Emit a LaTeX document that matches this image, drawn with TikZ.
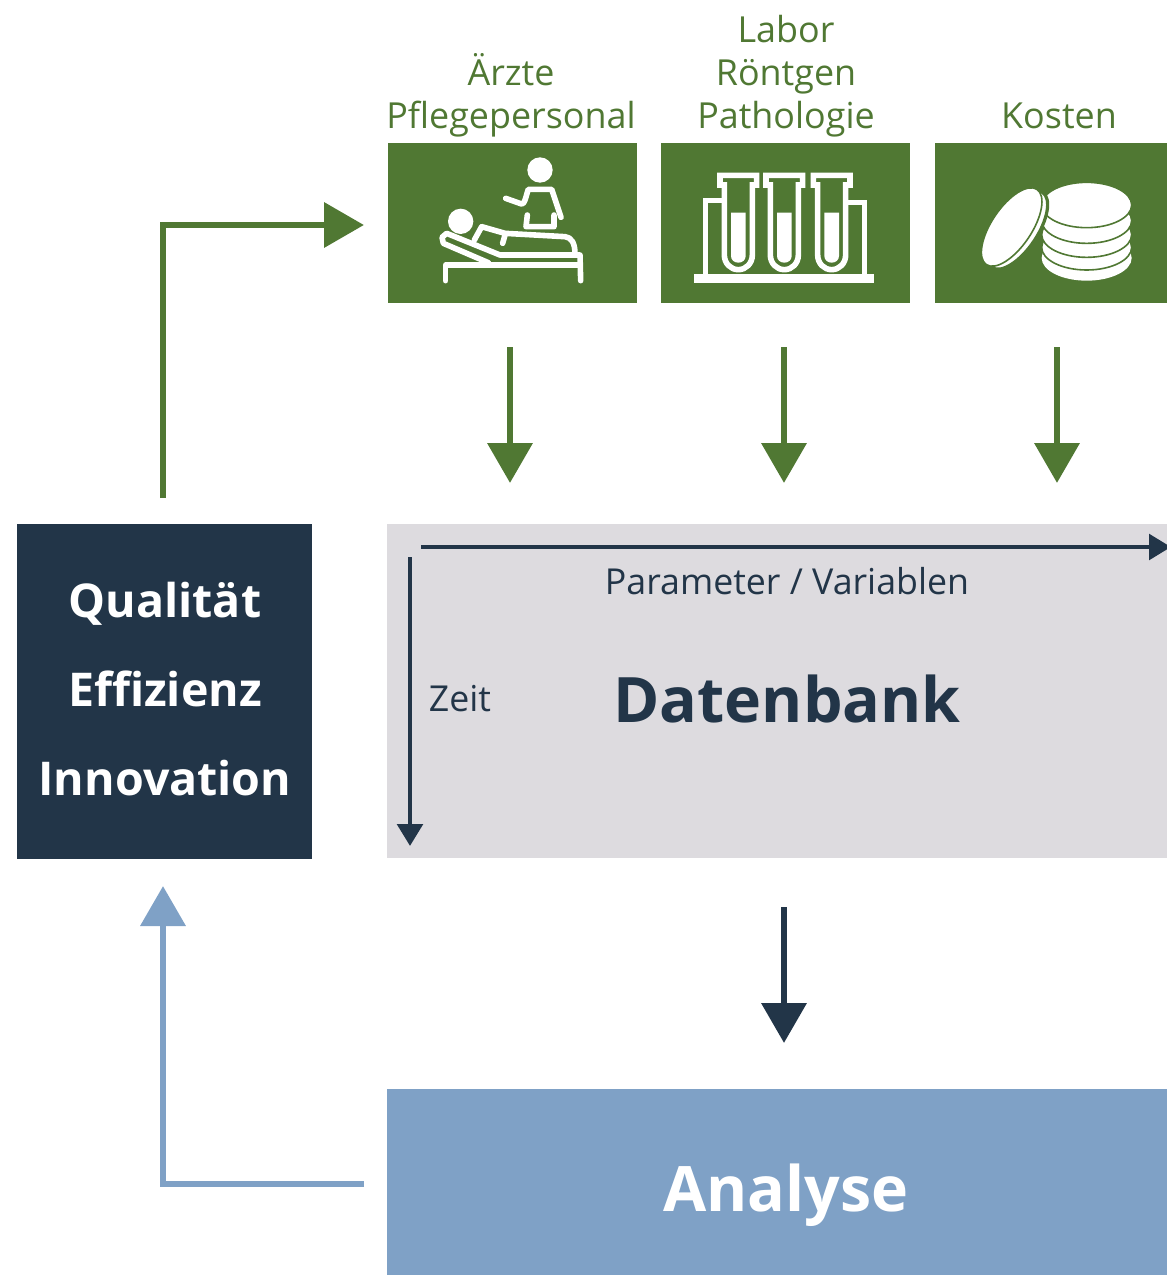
\documentclass[tikz,border=0pt]{standalone}
\usepackage{fontspec}
\setmainfont{Open Sans}
\usetikzlibrary{arrows.meta,calc}
\definecolor{gr}{HTML}{507833}
\definecolor{nv}{HTML}{223548}
\definecolor{bl}{HTML}{7FA1C6}
\definecolor{gy}{HTML}{DDDBDF}
\tikzset{
  x=0.75pt,y=-0.75pt,
  tile/.style={fill=gr,draw=none,inner sep=0,outer sep=0,anchor=north west},
  toplabel/.style={text=gr,font=\fontsize{26.9}{32.5}\selectfont,align=center,anchor=south,inner sep=0},
  bigarrow/.style={line width=5.2pt,-{Triangle[width=33pt,length=30pt]},miter limit=10},
  thinarrow/.style={draw=nv,line width=3.5pt,-{Triangle[width=19pt,length=16.5pt]}},
  block/.style={anchor=north west,inner sep=0,outer sep=0},
  icon/.style={draw=white,line width=4.2pt,line cap=round,line join=round},
  iconsq/.style={draw=white,line width=4.2pt,line cap=butt,line join=miter},
  mainlab/.style={inner sep=0,anchor=base,font=\fontsize{47}{56}\bfseries\selectfont},
  sidelab/.style={inner sep=0,anchor=base,text=white,font=\fontsize{34.9}{42}\bfseries\selectfont},
  smalllab/.style={inner sep=0,anchor=base,text=nv,font=\fontsize{26.8}{32}\selectfont},
}
\def\z{0.25pt}
\begin{document}
\begin{tikzpicture}
\useasboundingbox (0,0) rectangle (1167,1275);
% tiles
\node[tile,minimum width=186.75pt,minimum height=120pt] (t1) at (388,143) {};
\node[tile,minimum width=186.75pt,minimum height=120pt] (t2) at (661,143) {};
\node[tile,minimum width=176pt,minimum height=120pt] (t3) at (935,143) {};
% labels
\node[toplabel] (l1) at (511,142) {Ärzte\\Pflegepersonal\strut};
\node[toplabel] (l2) at (786,142) {Labor\\Röntgen\\Pathologie\strut};
\node[toplabel] (l3) at (1059,142) {Kosten\strut};
% blocks
\node[block,fill=nv,minimum width=221.25pt,minimum height=251.25pt] (q) at (17,524) {};
\node[block,fill=gy,minimum width=585pt,minimum height=250.5pt] (db) at (387,524) {};
\node[block,fill=bl,minimum width=585pt,minimum height=139.5pt] (an) at (387,1089) {};
\node[sidelab] (q1) at (165,617) {Qualität};
\node[sidelab] (q2) at (165,706) {Effizienz};
\node[sidelab] (q3) at (165,795) {Innovation};
\node[mainlab,text=nv] (dbl) at (787,722) {Datenbank};
\node[mainlab,text=white] (anl) at (786,1211) {Analyse};
\node[smalllab] (par) at (787,594) {Parameter / Variablen};
\node[smalllab] (zeit) at (460,711) {Zeit};
% connector ends
\coordinate (a1s) at (510,347); \coordinate (a1e) at (510,483);
\coordinate (a2s) at (784,347); \coordinate (a2e) at (784,483);
\coordinate (a3s) at (1057,347); \coordinate (a3e) at (1057,483);
\coordinate (a4s) at (784,907); \coordinate (a4e) at (784,1043);
\coordinate (gs) at (163,498); \coordinate (ge) at (364,225);
\coordinate (bs) at (364,1184); \coordinate (be) at (163,886);
\coordinate (hs) at (421,547); \coordinate (he) at (1171,547);
\coordinate (vs) at (410,557); \coordinate (ve) at (410,846);
% connectors
\draw[bigarrow,draw=gr] (a1s) -- (a1e);
\draw[bigarrow,draw=gr] (a2s) -- (a2e);
\draw[bigarrow,draw=gr] (a3s) -- (a3e);
\draw[bigarrow,draw=nv] (a4s) -- (a4e);
\draw[bigarrow,draw=gr] (gs) |- (ge);
\draw[bigarrow,draw=bl] (bs) -| (be);
\draw[thinarrow] (hs) -- (he);
\draw[thinarrow] (vs) -- (ve);
% icon 1
\begin{scope}[x=\z,y=-\z,shift={(1140,390)}]
\fill[white] (480,120) circle[radius=38*\z];
\fill[white] (242,274) circle[radius=38*\z];
\draw[icon] (377,205) -- (425,222) .. controls (435,222) and (437,200) .. (445,178) -- (515,178) -- (543,262);
\draw[icon] (442,255) -- (438,290) -- (522,290) -- (522,255);
\draw[icon] (283,330) -- (305,290) -- (375,310) -- (555,320) .. controls (575,322) and (585,340) .. (585,372);
\draw[icon] (375,315) -- (368,340);
\draw[icon] (325,398) -- (190,340) -- (186,322) -- (200,310) -- (360,375) -- (600,375) -- (602,452);
\draw[icon] (197,452) -- (197,405) -- (600,405);
\end{scope}
% icon 2
\begin{scope}[x=\z,y=-\z,shift={(1965,390)}]
\fill[white] (117,432) rectangle (657,458);
\draw[iconsq] (151,432) -- (151,212) -- (205,212);
\draw[iconsq] (628,432) -- (628,217) -- (575,217);
\foreach \c in {250,388,530}{
  \draw[iconsq] (\c-42,165) -- (\c-55,165) -- (\c-55,136) -- (\c+55,136) -- (\c+55,165) -- (\c+42,165) -- (\c+42,375) .. controls (\c+42,400) and (\c+23,419) .. (\c,419) .. controls (\c-23,419) and (\c-42,400) .. (\c-42,375) -- cycle;
  \fill[white] (\c-22,248) -- (\c+22,248) -- (\c+22,378) .. controls (\c+22,390) and (\c+12,398) .. (\c,398) .. controls (\c-12,398) and (\c-22,390) .. (\c-22,378) -- cycle;
}
\end{scope}
% icon 3
\begin{scope}[x=\z,y=-\z,shift={(2790,390)}]
\fill[white] (470,384) ellipse[x radius=135*\z,y radius=68*\z];
\foreach \y in {352,314,272,225}{
  \filldraw[fill=white,draw=gr,line width=1.2pt] (470,\y) ellipse[x radius=135*\z,y radius=68*\z];
}
\filldraw[fill=white,draw=gr,line width=2.4pt,shift={(262,300)},rotate=56] (0,0) ellipse[x radius=136*\z,y radius=60*\z];
\filldraw[fill=white,draw=gr,line width=1.2pt,shift={(245,291)},rotate=56] (0,0) ellipse[x radius=136*\z,y radius=60*\z];
\end{scope}
\end{tikzpicture}
\end{document}
